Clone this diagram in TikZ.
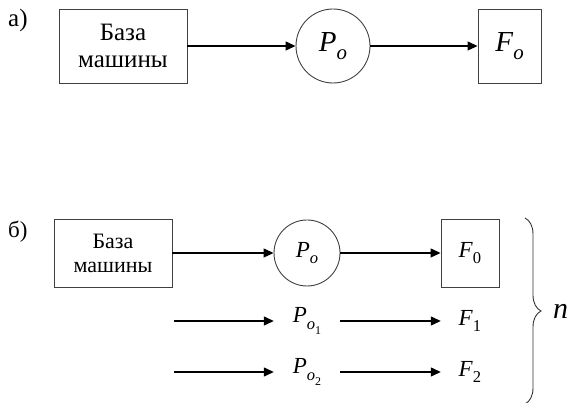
\documentclass[tikz,border=0pt]{standalone}
\usepackage{fontspec}
\setmainfont{Liberation Serif}
\usetikzlibrary{arrows.meta,decorations.pathreplacing}

% italic letter with a lowered, smaller index
\newcommand{\idx}[2]{\textit{#1}\raisebox{-0.28em}{\scalebox{0.72}{#2}}}

\begin{document}
\begin{tikzpicture}[
    x=1pt, y=-1pt,
    blk/.style={draw=black!75, line width=0.9pt, inner sep=0pt, align=center},
    circ/.style={circle, draw=black!75, line width=0.9pt, inner sep=0pt},
    term/.style={minimum width=66pt, inner sep=0pt, font=\fontsize{23}{24}\selectfont},
    edge/.style={-{Triangle[length=10pt,width=9pt]}, line width=1.2pt},
    brc/.style={decorate, decoration={brace, amplitude=16pt}, line width=0.9pt, draw=black!80},
    lbl/.style={anchor=west, inner sep=0pt}
]
\useasboundingbox (0,0) rectangle (574,403);

% Part a)
\node[lbl, font=\fontsize{25}{26}\selectfont] (la) at (8,20) {а)};
\node[blk, minimum width=128pt, minimum height=74pt, font=\fontsize{25}{27}\selectfont] (baseA) at (123,46) {База\\машины};
\node[circ, minimum size=74pt, font=\fontsize{29}{30}\selectfont] (pa) at (333,46) {\idx{P}{\textit{o}}};
\node[blk, minimum width=63pt, minimum height=74pt, font=\fontsize{29}{30}\selectfont] (fa) at (509.5,46) {\idx{F}{\textit{o}}};

\draw[edge] (baseA) -- (pa);
\draw[edge] (pa) -- (fa);

% Part b)
\node[lbl, font=\fontsize{23}{24}\selectfont] (lb) at (8,232) {б)};
\node[blk, minimum width=118pt, minimum height=68pt, font=\fontsize{22}{24}\selectfont] (baseB) at (113,253) {База\\машины};
\node[circ, minimum size=66pt, font=\fontsize{23}{24}\selectfont] (p0) at (307,253) {\idx{P}{\textit{o}}};
\node[blk, minimum width=58pt, minimum height=68pt, font=\fontsize{23}{24}\selectfont] (f0) at (470,253) {\idx{F}{0}};

\draw[edge] (baseB) -- (p0);
\draw[edge] (p0) -- (f0);

% Further rows
\foreach \i/\y in {1/321, 2/372} {
  \coordinate (s\i) at (174,\y);
  \node[term] (p\i) at (307,\y) {\idx{P}{\idx{o}{\i}}};
  \node[term, minimum width=58pt] (f\i) at (470,\y) {\idx{F}{\i}};
  \draw[edge] (s\i) -- (p\i);
  \draw[edge] (p\i) -- (f\i);
}

% Brace over all rows
\draw[brc] (525,218) -- (525,404);
\node[lbl, font=\fontsize{30}{32}\selectfont] (n) at (553,311) {\textit{n}};

\end{tikzpicture}
\end{document}
